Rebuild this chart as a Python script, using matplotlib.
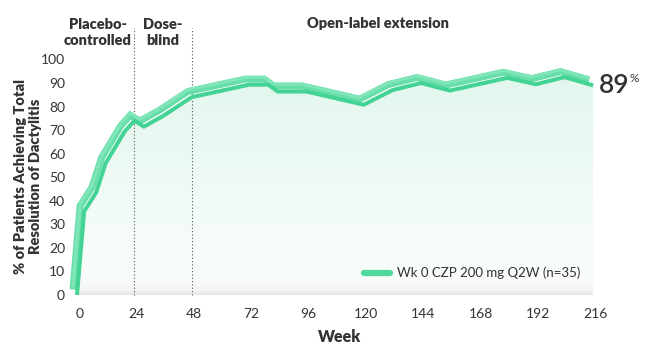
import matplotlib
matplotlib.use("Agg")
import matplotlib.pyplot as plt
import matplotlib.patheffects as pe
import matplotlib.transforms as mtransforms
from matplotlib.lines import Line2D
import numpy as np

# data
weeks = [0, 3, 8, 12, 20, 24, 28, 36, 48, 72, 80, 84, 96, 120, 132, 144, 156, 180, 192, 204, 216]
pct = [0, 35.5, 43.5, 56, 69.5, 74, 71.5, 76, 84, 89.3, 89.3, 86.4, 86.4, 80.8, 87, 90, 86.8, 92.2, 89.5, 92.5, 89]
xticks = [0, 24, 48, 72, 96, 120, 144, 168, 192, 216]
yticks = list(range(0, 101, 10))
phase_bounds = [24, 48]
series_label = "Wk 0 CZP 200 mg Q2W (n=35)"
final_label = "89"

W, H = 650, 364
plt.rcParams['font.family'] = ['Lato', 'DejaVu Sans']
fig = plt.figure(figsize=(W / 100, H / 100), dpi=100)
ax = fig.add_axes([0.10375, 0.1766, 0.8236, 0.6729])
ax.set_xlim(-4, 220)
ax.set_ylim(-2, 102)
for s in ax.spines.values():
    s.set_visible(False)

txt = '#333333'
dark = '#43d394'
mid = '#68dfab'
hi = '#80e5b9'

# gradient fill under the curve
ys = np.linspace(0, 100, 400)
stops = [0, 1.5, 5, 20, 50, 95]
cols = np.array([[0.90, 0.90, 0.90],
                 [0.95, 0.95, 0.95],
                 [0.975, 0.984, 0.98],
                 [0.965, 0.99, 0.978],
                 [0.935, 0.98, 0.96],
                 [0.885, 0.967, 0.93]])
grad = np.stack([np.interp(ys, stops, cols[:, i]) for i in range(3)], axis=-1)[:, None, :]
poly = ax.fill_between(weeks, 0, pct, color='none', lw=0)
im = ax.imshow(grad, extent=[0, 216, 0, 100], origin='lower', aspect='auto', zorder=1)
im.set_clip_path(poly.get_paths()[0], transform=ax.transData)

# phase separators
for b in phase_bounds:
    ax.plot([b, b], [0, 113.5], ls=(0, (1, 2)), color='#555555', lw=0.8,
            clip_on=False, zorder=2)

# ribbon line
ax.plot(weeks, pct, color=dark, lw=2.9, solid_joinstyle='miter', solid_capstyle='butt',
        clip_on=False, zorder=3,
        path_effects=[pe.Stroke(linewidth=5.0, foreground=mid, offset=(-2.9, 4.0),
                                joinstyle='miter', capstyle='butt'),
                      pe.Stroke(linewidth=2.2, foreground=hi, offset=(-3.0, 5.3),
                                joinstyle='miter', capstyle='butt'),
                      pe.Normal()])

ax.set_xticks(xticks)
ax.set_yticks(yticks)
ax.tick_params(length=0, labelsize=10, labelcolor=txt)
ax.tick_params(axis='y', pad=1.8)
ax.tick_params(axis='x', pad=6)
off = mtransforms.ScaledTranslation(0.023, 0, fig.dpi_scale_trans)
for lab in ax.get_xticklabels():
    lab.set_transform(lab.get_transform() + off)

fig.text(340 / W, 1 - 337 / H, 'Week', ha='center', va='center',
         fontsize=11.5, fontweight='heavy', color=txt)
fig.text(28 / W, 1 - 176 / H, '% of Patients Achieving Total\nResolution of Dactylitis',
         rotation=90, ha='center', va='center', fontsize=10.5, fontweight='heavy',
         color=txt, linespacing=1.15)

fig.text(98 / W, 1 - 32.5 / H, 'Placebo-\ncontrolled', ha='center', va='center',
         fontsize=10.5, fontweight='heavy', color=txt, linespacing=1.2)
fig.text(163 / W, 1 - 32.5 / H, 'Dose-\nblind', ha='center', va='center',
         fontsize=10.5, fontweight='heavy', color=txt, linespacing=1.2)
fig.text(378 / W, 1 - 24 / H, 'Open-label extension', ha='center', va='center',
         fontsize=10.5, fontweight='heavy', color=txt)

ax.text(218.5, pct[-1], final_label, ha='left', va='center', fontsize=19,
        fontweight='semibold', color=txt, clip_on=False)
ax.text(231.0, pct[-1] + 2.9, '%', ha='left', va='center', fontsize=8.5,
        color=txt, clip_on=False)

handle = Line2D([], [], color='#4fd99c', lw=4.5, solid_capstyle='round')
ax.legend([handle], [series_label], loc='center right',
          bbox_to_anchor=(587 / W, 1 - 273 / H), bbox_transform=fig.transFigure,
          frameon=False, fontsize=9.5, handlelength=2.0, handletextpad=0.5,
          borderpad=0, labelcolor=txt)

fig.savefig('out.png', dpi=100)
